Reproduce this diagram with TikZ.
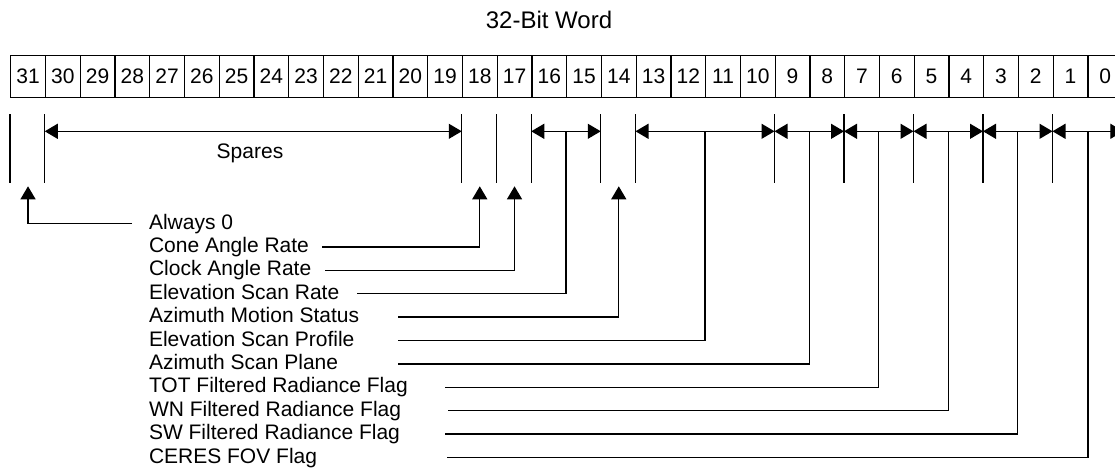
\documentclass[tikz,border=0pt]{standalone}
\usepackage{fontspec}
\setmainfont{Liberation Sans}
\usetikzlibrary{arrows.meta, positioning, calc}

\tikzset{
  bitcell/.style={rectangle, draw, minimum width=34.75pt, minimum height=42pt, inner sep=0pt, anchor=north west},
  field/.style={inner sep=0pt, outer sep=0pt, text height=15pt, text depth=4pt, anchor=north west},
  tip/.style={-{Triangle[length=13pt, width=15pt]}},
  span/.style={{Triangle[length=13pt, width=15pt]}-{Triangle[length=13pt, width=15pt]}}
}

\begin{document}
\begin{tikzpicture}[x=1pt, y=-1pt, line width=1.3pt, font=\fontsize{21}{25}\selectfont]
\clip (0,0) rectangle (1115,469);

% Word
\node (title) [font=\fontsize{24}{28}\selectfont] at (549,20) {32-Bit Word};
\foreach \b in {0,...,31}
  \node (c\b) [bitcell] at ({10+(31-\b)*34.75},55) {\b};

% Field limits
\foreach \b in {31,30,18,17,16,14,13,9,7,5,3,1}
  \draw (c\b.south west) ++(0,16) -- ++(0,69);
\draw (c0.south east) ++(0,16) -- ++(0,69);
\foreach \b in {30,18,16,14,13,9,7,5,3,1}
  \path (c\b.south west) ++(0,33) coordinate (a\b);
\path (c0.south east) ++(0,33) coordinate (aR);
\foreach \b in {31,18,17,14}
  \path (c\b.south) ++(0,88) coordinate (p\b);
\coordinate (m16) at ($(a16)!0.5!(a14)$);
\coordinate (m13) at ($(a13)!0.5!(a9)$);
\coordinate (m9) at ($(a9)!0.5!(a7)$);
\coordinate (m7) at ($(a7)!0.5!(a5)$);
\coordinate (m5) at ($(a5)!0.5!(a3)$);
\coordinate (m3) at ($(a3)!0.5!(a1)$);
\coordinate (m1) at ($(a1)!0.5!(aR)$);

% Spans
\draw[span] (a30) -- (a18);
\draw[span] (a16) -- (a14);
\draw[span] (a13) -- (a9);
\draw[span] (a9) -- (a7);
\draw[span] (a7) -- (a5);
\draw[span] (a5) -- (a3);
\draw[span] (a3) -- (a1);
\draw[span] (a1) -- (aR);
\node (spares) at (250,153) {Spares};

% Labels
\node (always) [field] at (149,214) {Always 0};
\node (cone) [below=4.4pt of always.south west, field] {Cone Angle Rate};
\node (clock) [below=4.4pt of cone.south west, field] {Clock Angle Rate};
\node (esr) [below=4.4pt of clock.south west, field] {Elevation Scan Rate};
\node (ams) [below=4.4pt of esr.south west, field] {Azimuth Motion Status};
\node (esp) [below=4.4pt of ams.south west, field] {Elevation Scan Profile};
\node (asp) [below=4.4pt of esp.south west, field] {Azimuth Scan Plane};
\node (tot) [below=4.4pt of asp.south west, field] {TOT Filtered Radiance Flag};
\node (wn) [below=4.4pt of tot.south west, field] {WN Filtered Radiance Flag};
\node (sw) [below=4.4pt of wn.south west, field] {SW Filtered Radiance Flag};
\node (ceres) [below=4.4pt of sw.south west, field] {CERES FOV Flag};

% Leaders
\draw[tip] ($(always.west)+(-17,0)$) -| (p31);
\draw[tip] ($(cone.west)+(173,0)$) -| (p18);
\draw[tip] ($(clock.west)+(176,0)$) -| (p17);
\draw ($(esr.west)+(208,0)$) -| (m16);
\draw[tip] ($(ams.west)+(249,0)$) -| (p14);
\draw ($(esp.west)+(249,0)$) -| (m13);
\draw ($(asp.west)+(249,0)$) -| (m9);
\draw ($(tot.west)+(296,0)$) -| (m7);
\draw ($(wn.west)+(299,0)$) -| (m5);
\draw ($(sw.west)+(296,0)$) -| (m3);
\draw ($(ceres.west)+(298,0)$) -| (m1);
\end{tikzpicture}
\end{document}
